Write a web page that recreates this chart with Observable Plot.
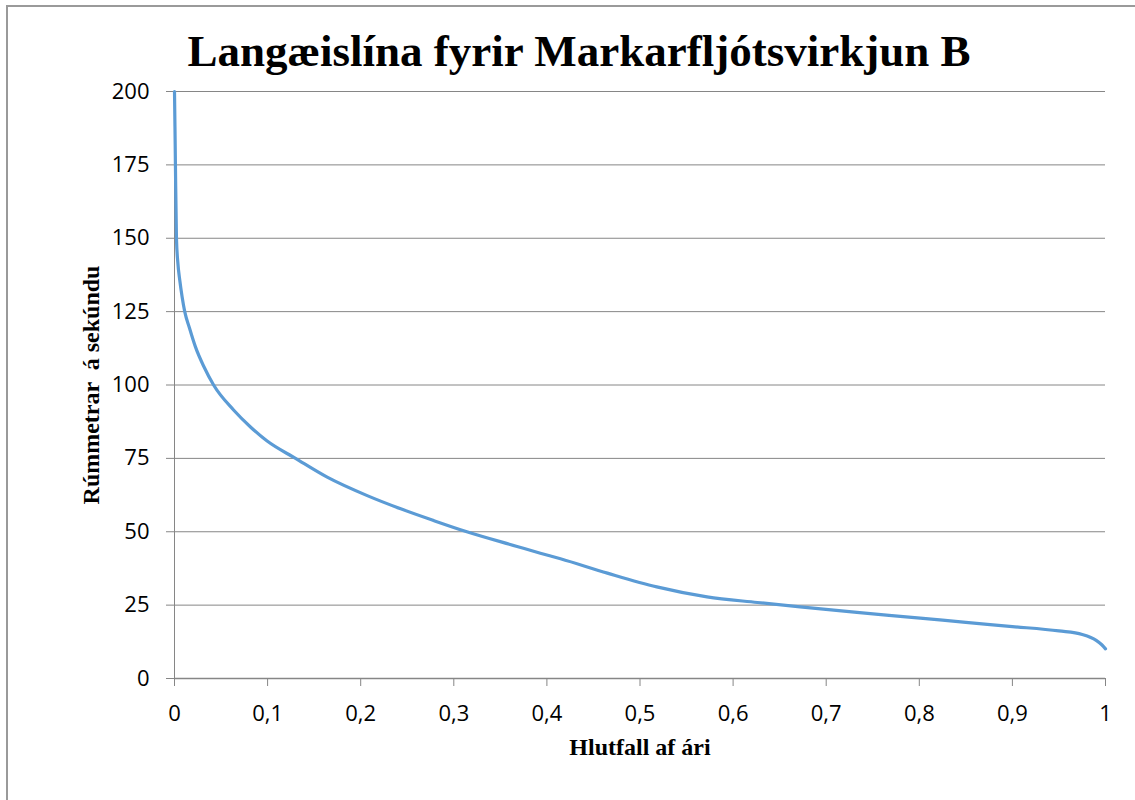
<!DOCTYPE html>
<html>
<head>
<meta charset="utf-8">
<script src="https://cdn.jsdelivr.net/npm/d3@7"></script>
<script src="https://cdn.jsdelivr.net/npm/@observablehq/plot@0.6"></script>
<style>
  html, body { margin: 0; padding: 0; background: #fff; }
  #wrap { position: relative; width: 1135px; height: 800px; overflow: hidden; }
  #border { position: absolute; left: 6px; top: 5px; width: 1200px; height: 900px;
            border-left: 2px solid #9a9a9a; border-top: 2px solid #9a9a9a; }
  #chart { position: absolute; left: 0; top: 0; }
</style>
</head>
<body>
<div id="wrap"><div id="border"></div><div id="chart"></div></div>
<script>
const title = "Langæislína fyrir Markarfljótsvirkjun B";
const xLabel = "Hlutfall af ári";
const yLabel = "Rúmmetrar  á sekúndu";

const xTicks = [0, 0.1, 0.2, 0.3, 0.4, 0.5, 0.6, 0.7, 0.8, 0.9, 1];
const yTicks = [0, 25, 50, 75, 100, 125, 150, 175, 200];

// Fraction of year (exceedance) and discharge (m³/s)
const fraction = [0, 0.0005, 0.001, 0.0021, 0.0035, 0.0057, 0.0082, 0.011, 0.016, 0.0226,
  0.0315, 0.042, 0.0637, 0.0816, 0.0995, 0.130, 0.164, 0.207, 0.243, 0.2785,
  0.314, 0.368, 0.393, 0.4146, 0.465, 0.518, 0.572, 0.626, 0.672, 0.733,
  0.801, 0.85, 0.9, 0.95, 0.975, 0.99, 0.996, 1.0];
const discharge = [200, 188, 175, 150, 142, 135.6, 130, 125, 119.5, 112.9,
  106.3, 100, 91.4, 85.7, 80.9, 75, 68.6, 62.3, 57.8, 53.8,
  50, 45.0, 42.7, 40.8, 35.9, 31.2, 27.8, 25.9, 24.4, 22.5,
  20.6, 19.1, 17.7, 16.2, 15, 13, 11.5, 10.1];

const data = fraction.map((f, i) => ({x: f, y: discharge[i]}));
const grey = "#868686";
const serif = "'Liberation Serif', 'Times New Roman', serif";

const chart = Plot.plot({
  width: 1135,
  height: 800,
  marginLeft: 174,
  marginRight: 30,
  marginTop: 91,
  marginBottom: 122,
  style: {fontFamily: "'Open Sans', sans-serif", fontSize: "22px", color: "#000", background: "transparent", overflow: "visible"},
  x: {domain: [0, 1]},
  y: {domain: [0, 200]},
  marks: [
    Plot.gridY(yTicks.filter(d => d > 0), {stroke: grey, strokeOpacity: 1, strokeWidth: 1}),
    Plot.axisY({ticks: yTicks, tickSize: 8, tickPadding: 17, stroke: grey, fill: "#000", label: null, fontSize: 22}),
    Plot.axisX({ticks: xTicks, tickSize: 8, tickPadding: 19, stroke: grey, fill: "#000", label: null, fontSize: 22,
      tickFormat: d => String(d).replace(".", ",")}),
    Plot.ruleX([0], {stroke: grey, strokeWidth: 1}),
    Plot.ruleY([0], {stroke: grey, strokeWidth: 1.5}),
    Plot.line(data, {x: "x", y: "y", stroke: "#5B9BD5", strokeWidth: 3.2, curve: "monotone-x"}),
    Plot.text([title], {frameAnchor: "top", lineAnchor: "middle", textAnchor: "middle", dx: -61, dy: -40,
      fontFamily: serif, fontWeight: "bold", fontSize: 45, fill: "#000"}),
    Plot.text([xLabel], {frameAnchor: "bottom", lineAnchor: "middle", textAnchor: "middle", dy: 69,
      fontFamily: serif, fontWeight: "bold", fontSize: 24, fill: "#000"}),
    Plot.text([yLabel], {frameAnchor: "left", lineAnchor: "middle", textAnchor: "middle", dx: -83, rotate: -90,
      fontFamily: serif, fontWeight: "bold", fontSize: 24, fill: "#000"})
  ]
});
document.getElementById("chart").appendChild(chart);
</script>
</body>
</html>
